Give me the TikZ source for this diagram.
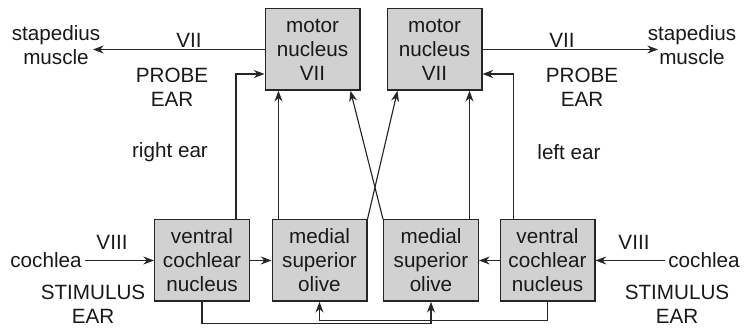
\documentclass[tikz,border=0pt]{standalone}
\usepackage{fontspec}
\setmainfont{Liberation Sans}
\usetikzlibrary{arrows.meta, calc, positioning}
\tikzset{
    nucleus/.style={draw=black!85, rectangle, fill=black!18, line width=1pt, minimum width=71pt, minimum height=61pt, inner sep=0pt, align=center, text=black!90, font=\fontsize{15.5}{18}\selectfont},
    tag/.style={align=center, inner sep=2pt, text=black!90, font=\fontsize{15.5}{18}\selectfont},
    pathway/.style={line width=0.85pt, draw=black!85, -{Stealth[length=8pt, width=6pt]}}
}

\begin{document}
\begin{tikzpicture}[x=0.75pt, y=0.75pt]
        \useasboundingbox (0,0) rectangle (744,328);

        % -----------------------------------------------------------------
        % NUCLEI
        % -----------------------------------------------------------------
        \node[nucleus] (motorL) at (312.5,278.5) {motor\\nucleus\\VII};
        \node[nucleus] (motorR) at (434.5,278.5) {motor\\nucleus\\VII};
        \node[nucleus] (vcnL) at (202,67.5) {ventral\\cochlear\\nucleus};
        \node[nucleus] (msoL) at (319.5,67.5) {medial\\superior\\olive};
        \node[nucleus] (msoR) at (431,67.5) {medial\\superior\\olive};
        \node[nucleus] (vcnR) at (547.5,67.5) {ventral\\cochlear\\nucleus};

        % -----------------------------------------------------------------
        % TESTI
        % -----------------------------------------------------------------
        \node[tag] (stapL) at (56,283) {stapedius\\muscle};
        \node[tag] (stapR) at (692,283) {stapedius\\muscle};
        \node[tag] (nervL) at (189,288) {VII};
        \node[tag] (nervR) at (562,288) {VII};
        \node[tag] (probeL) at (172,240.5) {PROBE\\EAR};
        \node[tag] (probeR) at (582,240.5) {PROBE\\EAR};
        \node[tag] (rightear) at (170,176) {right ear};
        \node[tag] (leftear) at (569,176) {left ear};
        \node[tag] (cochL) at (46,67.5) {cochlea};
        \node[tag] (cochR) at (704,67.5) {cochlea};
        \node[tag] (acouL) at (112,86) {VIII};
        \node[tag] (acouR) at (634,86) {VIII};
        \node[tag] (stimL) at (93,23.5) {STIMULUS\\EAR};
        \node[tag] (stimR) at (677,23.5) {STIMULUS\\EAR};

        \coordinate (muscleL) at (93,278.5);
        \coordinate (muscleR) at (658,278.5);

        % -----------------------------------------------------------------
        % VIE EFFERENTI
        % -----------------------------------------------------------------
        \draw[pathway] (motorL.west) -- (muscleL);
        \draw[pathway] (motorR.east) -- (muscleR);

        % -----------------------------------------------------------------
        % VIE AFFERENTI
        % -----------------------------------------------------------------
        \draw[pathway] (cochL.east) -- (vcnL.west);
        \draw[pathway] (cochR.west) -- (vcnR.east);
        \draw[pathway] (vcnL.east) -- (msoL.west);
        \draw[pathway] (vcnR.west) -- (msoR.east);

        \draw[pathway] ($(vcnL.north east)+(-14,0)$) |- ($(motorL.west)+(0,-24.5)$);
        \draw[pathway] ($(vcnR.north west)+(14,0)$) |- ($(motorR.east)+(0,-24.5)$);
        \draw[pathway] ($(msoL.north west)+(7,0)$) -- ($(motorL.south west)+(14,0)$);
        \draw[pathway] ($(msoR.north east)+(-9.5,0)$) -- ($(motorR.south east)+(-13,0)$);
        \draw[pathway] (msoR.north west) -- ($(motorL.south east)+(-10,0)$);
        \draw[pathway] (msoL.north east) -- ($(motorR.south west)+(11,0)$);

        % incroci in basso
        \draw[pathway] (vcnL.south) -- ++(0,-22) -| (msoR.south);
        \draw[pathway] (vcnR.south) -- ++(0,-19) -| (msoL.south);

    \end{tikzpicture}
\end{document}
